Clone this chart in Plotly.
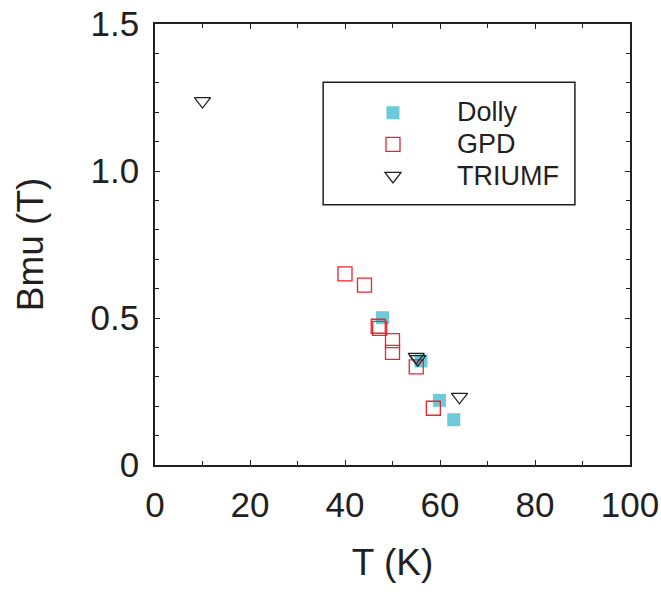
import plotly.graph_objects as go

# Data
dolly_T = [47.9, 56.0, 59.9, 62.9]
dolly_B = [0.501, 0.354, 0.220, 0.154]

gpd_T = [40.0, 44.1, 47.0, 47.3, 50.0, 50.0, 55.0, 58.6]
gpd_B = [0.650, 0.612, 0.472, 0.465, 0.423, 0.383, 0.334, 0.193]

triumf_T = [10.0, 55.0, 55.3, 64.1]
triumf_B = [1.238, 0.368, 0.360, 0.232]

series_names = ["Dolly", "GPD", "TRIUMF"]

x_ticks = [0, 20, 40, 60, 80, 100]
y_ticks = [0, 0.5, 1.0, 1.5]
y_ticklabels = ["0", "0.5", "1.0", "1.5"]

TXT = "#231f20"
FONT = "Arial, Liberation Sans, sans-serif"


def leg(name):
    return '<span style="font-size:27px">' + name + "</span>"


fig = go.Figure()
fig.add_trace(go.Scatter(x=dolly_T, y=dolly_B, mode="markers", name=leg(series_names[0]),
                         marker=dict(symbol="square", size=13, color="#6dcbd9",
                                     line=dict(width=0))))
fig.add_trace(go.Scatter(x=gpd_T, y=gpd_B, mode="markers", name=leg(series_names[1]),
                         marker=dict(symbol="square-open", size=14, color="#e8262c",
                                     line=dict(width=1.3))))
fig.add_trace(go.Scatter(x=triumf_T, y=triumf_B, mode="markers", name=leg(series_names[2]),
                         marker=dict(symbol="triangle-down-open", size=14, color="#231f20",
                                     line=dict(width=1.3))))

axis_common = dict(showline=True, linecolor=TXT, linewidth=1.5, mirror="allticks",
                   ticks="inside", ticklen=5, tickwidth=1.2, tickcolor=TXT,
                   showgrid=False, zeroline=False, automargin=False,
                   tickfont=dict(size=35, color=TXT, family=FONT))

fig.update_xaxes(range=[0, 100], tickvals=x_ticks, ticklabelstandoff=8,
                 minor=dict(dtick=10, ticks="inside", ticklen=4, tickcolor=TXT, tickwidth=1.2),
                 title=dict(text="T (K)", font=dict(size=37, color=TXT, family=FONT), standoff=26),
                 **axis_common)
fig.update_yaxes(range=[0, 1.5], tickvals=y_ticks, ticktext=y_ticklabels, ticklabelstandoff=7,
                 minor=dict(dtick=0.1, ticks="inside", ticklen=4, tickcolor=TXT, tickwidth=1.2),
                 title=dict(text="Bmu (T)", font=dict(size=37, color=TXT, family=FONT), standoff=36),
                 **axis_common)

# legend frame
fig.add_shape(type="rect", xref="paper", yref="paper", x0=0.354, x1=0.884, y0=0.590, y1=0.868,
              line=dict(color=TXT, width=1.5), fillcolor="rgba(0,0,0,0)")

fig.update_layout(
    width=661, height=592,
    margin=dict(l=155, r=31, t=24, b=127),
    paper_bgcolor="white", plot_bgcolor="white",
    showlegend=True,
    legend=dict(x=0.3663, y=0.846, xanchor="left", yanchor="top",
                bgcolor="rgba(0,0,0,0)", borderwidth=0,
                font=dict(size=22, color=TXT, family=FONT), itemwidth=118),
)

fig.write_html("out.html")
